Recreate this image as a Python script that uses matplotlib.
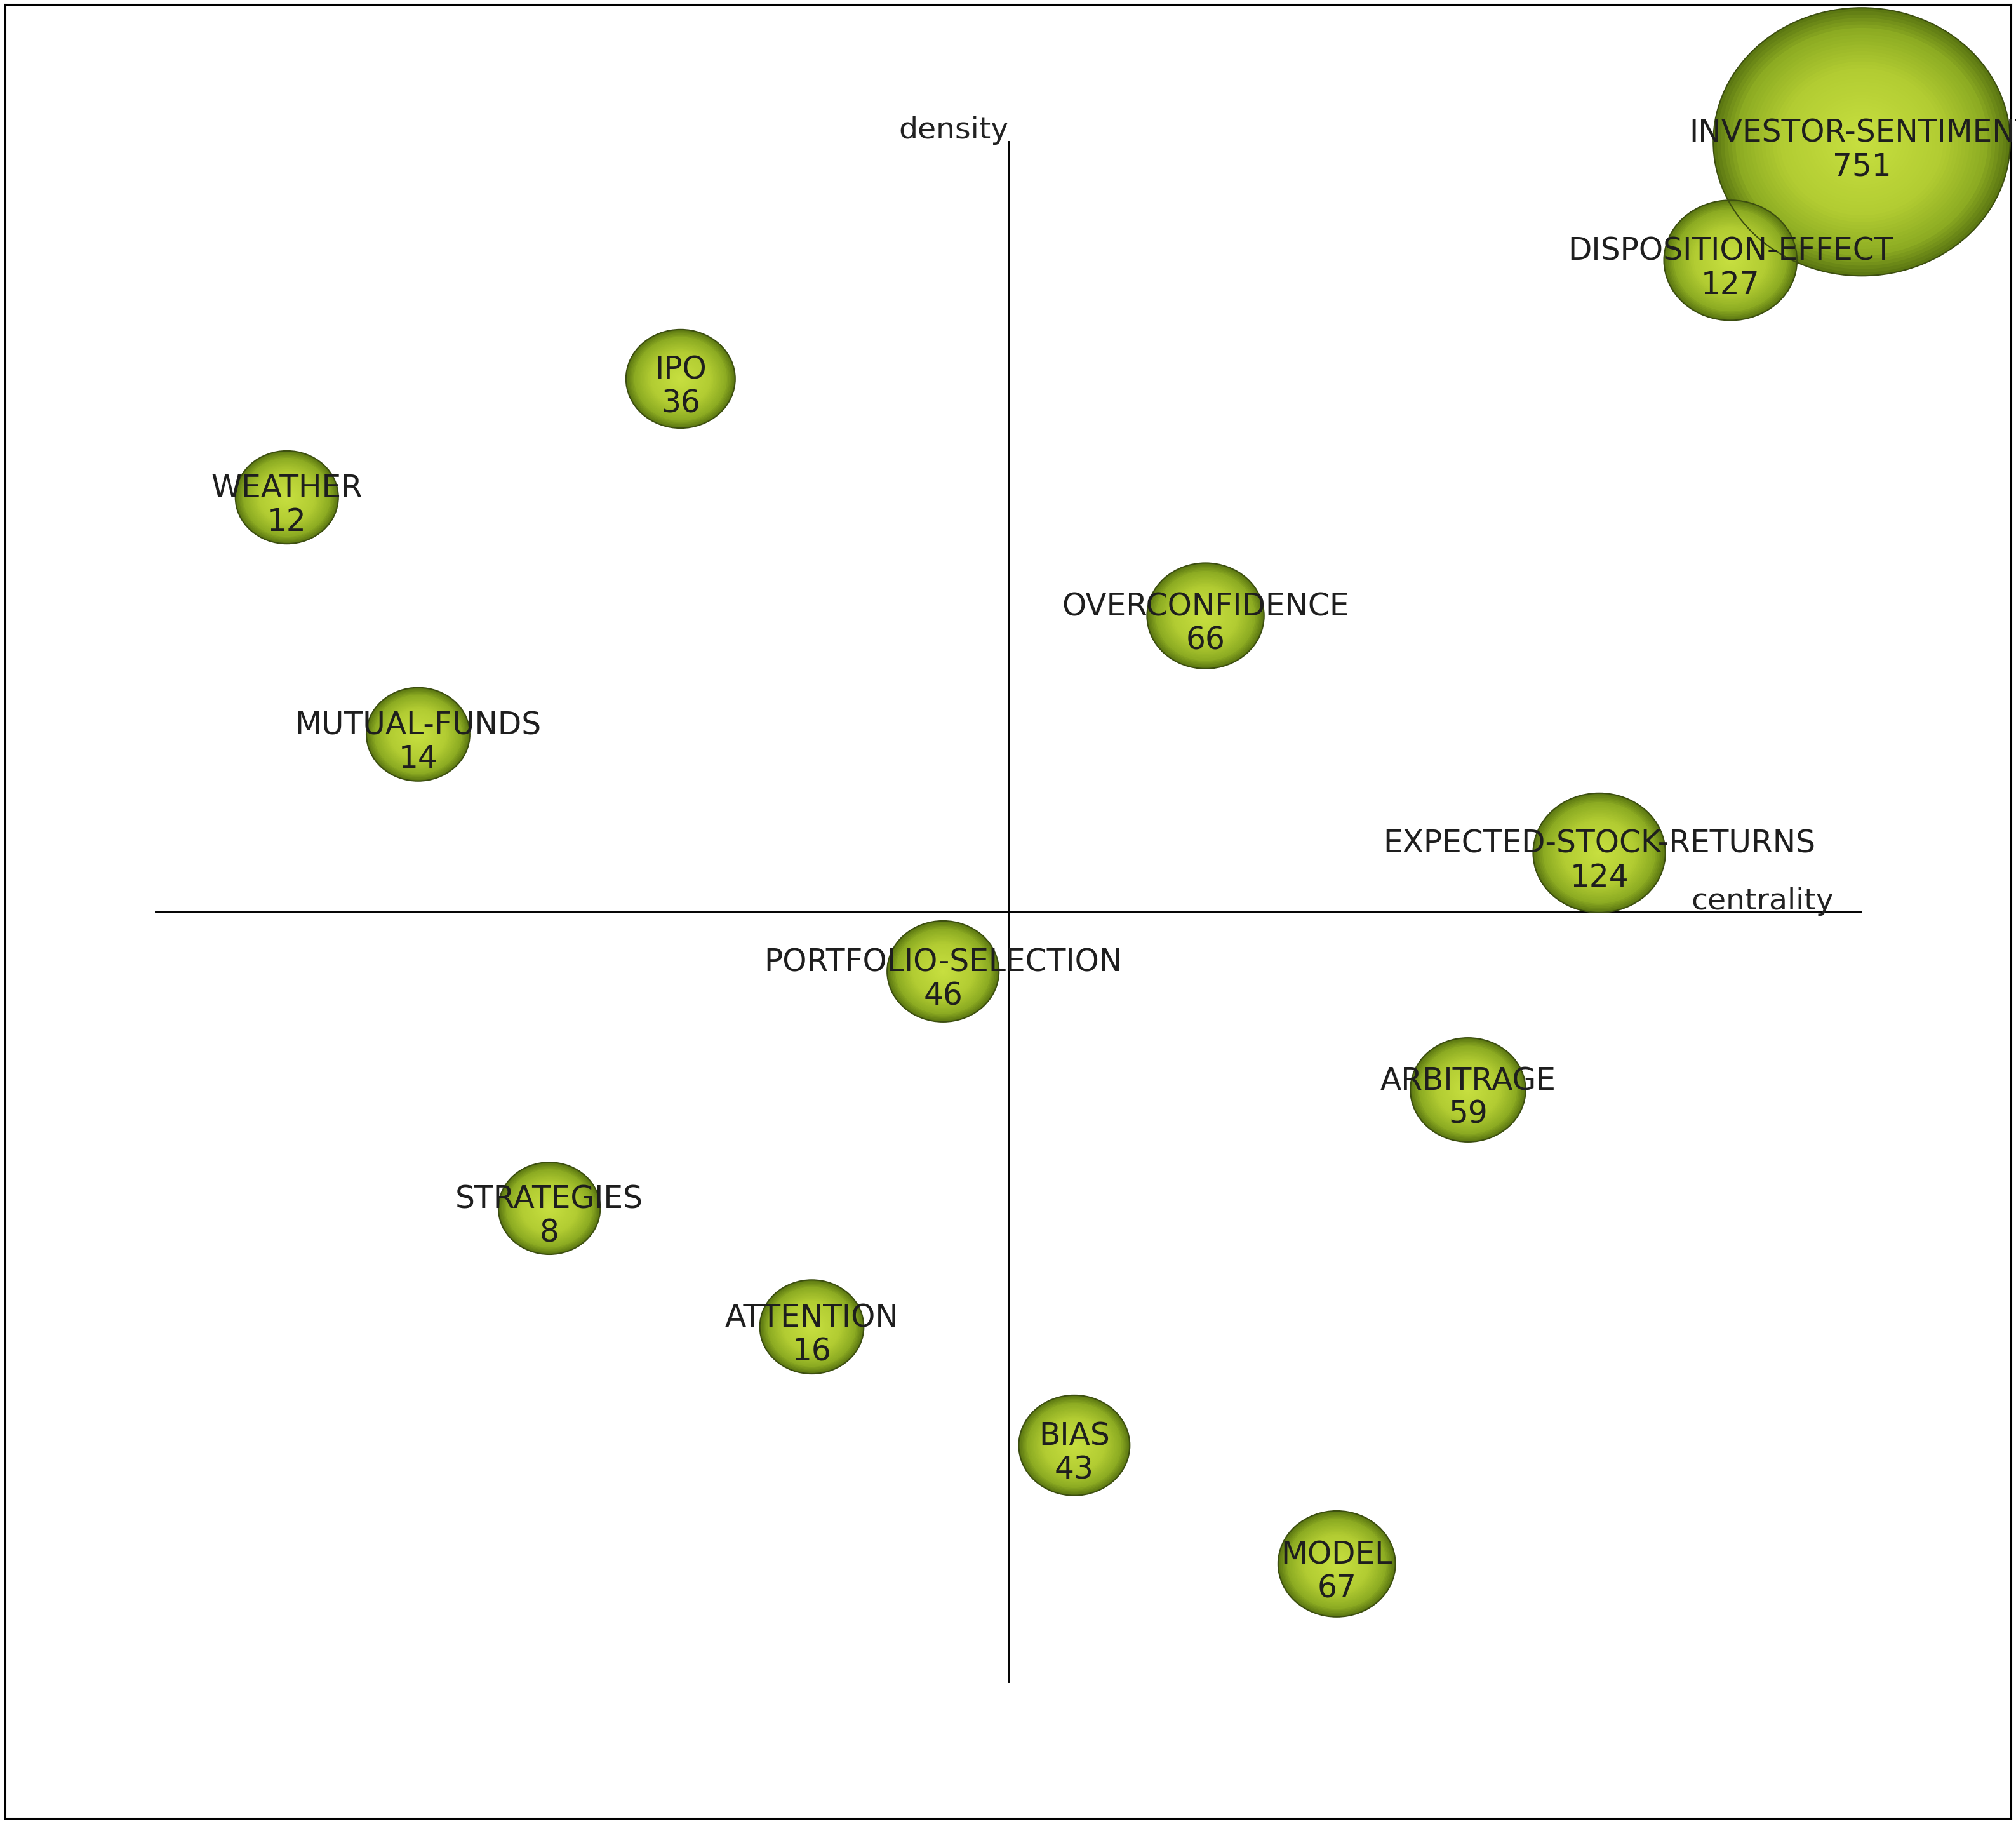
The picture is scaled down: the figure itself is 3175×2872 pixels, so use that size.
import numpy as np
import matplotlib
matplotlib.use('Agg')
import matplotlib.pyplot as plt
from matplotlib.patches import Ellipse
from matplotlib.colors import LinearSegmentedColormap

# thematic map: themes placed by centrality rank (x) and density rank (y)
themes = ['INVESTOR-SENTIMENT', 'DISPOSITION-EFFECT', 'IPO', 'WEATHER', 'OVERCONFIDENCE',
          'MUTUAL-FUNDS', 'EXPECTED-STOCK-RETURNS', 'PORTFOLIO-SELECTION', 'ARBITRAGE',
          'STRATEGIES', 'ATTENTION', 'BIAS', 'MODEL']
freq = [751, 127, 36, 12, 66, 14, 124, 46, 59, 8, 16, 43, 67]
centrality_rank = [13, 12, 4, 1, 8, 2, 11, 6, 10, 3, 5, 7, 9]
density_rank = [13, 12, 11, 10, 9, 8, 7, 6, 5, 4, 3, 2, 1]

W, H = 3175, 2872
fig = plt.figure(figsize=(W/100, H/100), dpi=100)
ax = fig.add_axes([8/W, 9/H, (3167-8)/W, (2863-7)/H])
ax.set_xlim(-1.147, 14.137)
ax.set_ylim(-1.147, 14.159)
ax.set_xticks([]); ax.set_yticks([])
for s in ax.spines.values():
    s.set_linewidth(2.2); s.set_color('black')

n = len(themes); mid = n/2
ax.plot([0, n], [mid, mid], color='black', lw=1.4, zorder=1)
ax.plot([mid, mid], [0, n], color='black', lw=1.4, zorder=1)
ax.text(mid, n+0.03, 'density', ha='right', va='baseline', fontsize=34, color='#222222')
ax.text(12.79, mid+0.02, 'centrality', ha='right', va='baseline', fontsize=34, color='#222222')

cmap = LinearSegmentedColormap.from_list('bub', [(0, '#c8e040'), (0.55, '#b2cc32'),
                                                 (0.85, '#8cab22'), (1.0, '#5c7812')])
radius = [0.38 + 0.001*f for f in freq]
order = np.argsort(radius)[::-1]
for i in order:
    x, y, r = centrality_rank[i], density_rank[i], radius[i]
    for k in range(40):
        t = 1 - k/40
        ax.add_patch(Ellipse((x, y), 2*r*t, 2*r*t, facecolor=cmap(t), edgecolor='none', zorder=2))
    ax.add_patch(Ellipse((x, y), 2*r, 2*r, facecolor='none', edgecolor='#3c4e10', lw=1.5, zorder=3))
    t1 = ax.annotate(themes[i], (x, y), xytext=(0, 10), textcoords='offset points',
                     ha='center', va='center', fontsize=35, color='#1e1e1e', zorder=4)
    t2 = ax.annotate(str(freq[i]), (x, y), xytext=(0, -28), textcoords='offset points',
                     ha='center', va='center', fontsize=35, color='#1e1e1e', zorder=4)
    t1.set_clip_on(True); t2.set_clip_on(True)

fig.savefig('out.png', dpi=100, facecolor='white')
